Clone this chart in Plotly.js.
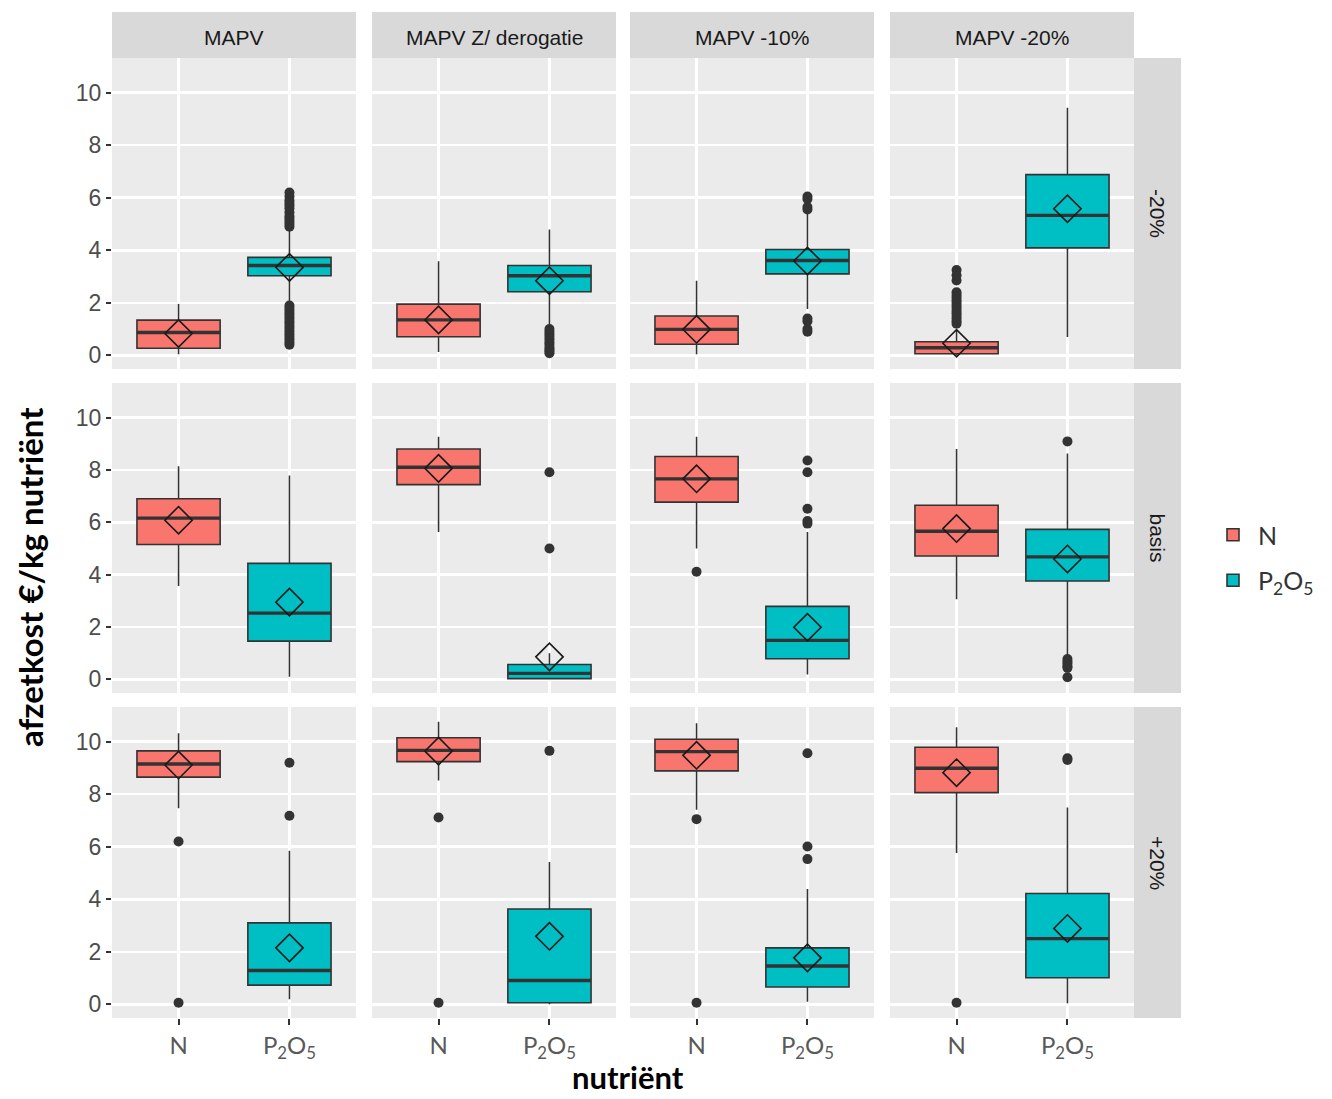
<!DOCTYPE html>
<html>
<head>
<meta charset="utf-8">
<script src="https://cdn.plot.ly/plotly-3.0.1.min.js"></script>
<style>html,body{margin:0;padding:0;background:#fff;}#chart{width:1332px;height:1099px;}</style>
</head>
<body>
<div id="chart"></div>
<script>
// ---------------- DATA ----------------
const scenarios = ['MAPV', 'MAPV Z/ derogatie', 'MAPV -10%', 'MAPV -20%'];
const prices = ['-20%', 'basis', '+20%'];
const nutrients = ['N', 'P<sub>2</sub>O<sub>5</sub>'];
// panel order: row (price) by row, scenario left to right
// N statistics
const nQ1   = [0.27, 0.71, 0.42, 0.06,   5.15, 7.44, 6.77, 4.71,   8.65, 9.24, 8.89, 8.06];
const nMed  = [0.87, 1.35, 0.99, 0.29,   6.16, 8.10, 7.66, 5.66,   9.15, 9.67, 9.62, 8.99];
const nQ3   = [1.34, 1.95, 1.50, 0.52,   6.90, 8.80, 8.51, 6.65,   9.65, 10.15, 10.09, 9.79];
const nLow  = [0.04, 0.13, 0.04, 0.00,   3.57, 5.63, 5.00, 3.06,   7.47, 8.52, 7.41, 5.76];
const nUp   = [1.95, 3.58, 2.84, 0.95,   8.14, 9.27, 9.27, 8.80,   10.32, 10.76, 10.70, 10.55];
const nMean = [0.83, 1.35, 0.99, 0.46,   6.08, 8.06, 7.66, 5.76,   9.11, 9.64, 9.48, 8.82];
const nOut  = [
  [], [], [], [1.2, 1.3, 1.4, 1.5, 1.6, 1.7, 1.8, 1.9, 2.0, 2.1, 2.2, 2.3, 2.4, 2.85, 3.05, 3.25],
  [], [], [4.11], [],
  [6.20, 0.06], [7.11, 0.06], [7.05, 0.06], [0.06]
];
// P2O5 statistics
const pQ1   = [3.03, 2.42, 3.10, 4.09,   1.46, 0.03, 0.79, 3.76,   0.73, 0.06, 0.66, 1.01];
const pMed  = [3.42, 3.03, 3.61, 5.33,   2.53, 0.23, 1.49, 4.68,   1.29, 0.91, 1.46, 2.50];
const pQ3   = [3.73, 3.42, 4.03, 6.88,   4.43, 0.57, 2.79, 5.73,   3.10, 3.63, 2.15, 4.22];
const pLow  = [2.00, 1.15, 1.76, 0.70,   0.10, 0.00, 0.19, 0.90,   0.19, 0.00, 0.10, 0.04];
const pUp   = [4.80, 4.79, 5.47, 9.43,   7.79, 1.00, 5.63, 8.63,   5.85, 5.42, 4.39, 7.49];
const pMean = [3.35, 2.84, 3.59, 5.58,   2.95, 0.86, 1.99, 4.60,   2.15, 2.59, 1.77, 2.89];
const pOut  = [
  [4.9, 5.0, 5.1, 5.2, 5.3, 5.45, 5.6, 5.7, 5.8, 5.9, 6.05, 6.2,
   0.4, 0.5, 0.6, 0.7, 0.8, 0.9, 1.0, 1.1, 1.2, 1.3, 1.4, 1.5, 1.6, 1.7, 1.8, 1.9],
  [0.08, 0.15, 0.22, 0.3, 0.4, 0.5, 0.6, 0.7, 0.8, 0.9, 1.0],
  [6.05, 5.95, 5.65, 5.55, 1.4, 1.3, 1.0, 0.9],
  [],
  [], [7.91, 5.0], [8.36, 7.91, 6.52, 6.05, 5.95], [9.09, 0.78, 0.68, 0.6, 0.5, 0.44, 0.08],
  [9.20, 7.18], [9.65], [9.56, 6.01, 5.53], [9.37, 9.30]
];

// ---------------- LAYOUT CONSTANTS ----------------
const W = 1332, H = 1099;
const colL = [112, 372, 630, 890];
const colR = [356, 616, 874, 1134];
const rowT = [58, 383, 707];
const rowB = [369, 693, 1018];
const stripTop = 12, stripRight = 1181;
const colors = ['#F8766D', '#00BFC4'];
const boxW = 0.75;

const statSets = [
  {q1: nQ1, med: nMed, q3: nQ3, lo: nLow, up: nUp, mean: nMean, out: nOut},
  {q1: pQ1, med: pMed, q3: pQ3, lo: pLow, up: pUp, mean: pMean, out: pOut}
];

const traces = [];
const layout = {
  width: W, height: H,
  margin: {l: 0, r: 0, t: 0, b: 0},
  paper_bgcolor: '#ffffff',
  plot_bgcolor: '#EBEBEB',
  boxmode: 'overlay',
  showlegend: true,
  hovermode: false,
  legend: {
    x: 1208 / W, y: 1 - 512 / H, xanchor: 'left', yanchor: 'top',
    font: {family: 'Lato, "Open Sans", sans-serif', size: 25, color: '#333333'},
    bgcolor: 'rgba(0,0,0,0)', tracegroupgap: 10, itemwidth: 40
  },
  shapes: [],
  annotations: []
};

for (let i = 0; i < 12; i++) {
  const r = Math.floor(i / 4), c = i % 4;
  const s = i === 0 ? '' : String(i + 1);
  layout['xaxis' + s] = {
    domain: [colL[c] / W, colR[c] / W], anchor: 'y' + s,
    range: [0.4, 2.6], tickmode: 'array', tickvals: [1, 2], ticktext: nutrients,
    showticklabels: r === 2, ticks: r === 2 ? 'outside' : '', ticklen: 6, tickwidth: 2, tickcolor: '#333333',
    tickfont: {family: 'Lato, "Open Sans", sans-serif', size: 24, color: '#595959'},
    showgrid: true, gridcolor: '#FFFFFF', gridwidth: 2.5, zeroline: false, showline: false, fixedrange: true
  };
  layout['yaxis' + s] = {
    domain: [1 - rowB[r] / H, 1 - rowT[r] / H], anchor: 'x' + s,
    range: [-0.52, 11.32], tickmode: 'array', tickvals: [0, 2, 4, 6, 8, 10],
    showticklabels: c === 0, ticks: c === 0 ? 'outside' : '', ticklen: 5, tickwidth: 2, tickcolor: '#333333',
    tickfont: {family: '"Liberation Sans", Arial, sans-serif', size: 23, color: '#4D4D4D'},
    showgrid: true, gridcolor: '#FFFFFF', gridwidth: 2.5, zeroline: false, showline: false, fixedrange: true
  };

  for (let k = 0; k < 2; k++) {
    const st = statSets[k];
    const xc = k + 1;
    traces.push({
      type: 'box', x: [xc],
      q1: [st.q1[i]], median: [st.med[i]], q3: [st.q3[i]],
      lowerfence: [st.lo[i]], upperfence: [st.up[i]],
      width: boxW, whiskerwidth: 0, boxpoints: false,
      fillcolor: colors[k], line: {color: '#333333', width: 1.6},
      xaxis: 'x' + s, yaxis: 'y' + s,
      name: nutrients[k], legendgroup: nutrients[k], showlegend: i === 0
    });
    // thicker median line (ggplot fatten)
    traces.push({
      type: 'scatter', mode: 'lines',
      x: [xc - boxW / 2, xc + boxW / 2], y: [st.med[i], st.med[i]],
      line: {color: '#333333', width: 3.4},
      xaxis: 'x' + s, yaxis: 'y' + s, showlegend: false, hoverinfo: 'skip'
    });
    // outliers
    if (st.out[i].length) {
      traces.push({
        type: 'scatter', mode: 'markers',
        x: st.out[i].map(() => xc), y: st.out[i],
        marker: {color: '#333333', size: 10},
        xaxis: 'x' + s, yaxis: 'y' + s, showlegend: false, hoverinfo: 'skip'
      });
    }
    // mean diamond
    traces.push({
      type: 'scatter', mode: 'markers',
      x: [xc], y: [st.mean[i]],
      marker: {symbol: 'diamond-open', size: 21, color: '#1A1A1A', line: {width: 1.6, color: '#1A1A1A'}},
      xaxis: 'x' + s, yaxis: 'y' + s, showlegend: false, hoverinfo: 'skip'
    });
  }
}

// facet strips (top)
for (let c = 0; c < 4; c++) {
  layout.shapes.push({
    type: 'rect', xref: 'paper', yref: 'paper', layer: 'below',
    x0: colL[c] / W, x1: colR[c] / W, y0: 1 - rowT[0] / H, y1: 1 - stripTop / H,
    fillcolor: '#D9D9D9', line: {width: 0}
  });
  layout.annotations.push({
    xref: 'paper', yref: 'paper', showarrow: false,
    x: (colL[c] + colR[c]) / 2 / W, y: 1 - (stripTop + rowT[0]) / 2 / H, yshift: -3,
    xanchor: 'center', yanchor: 'middle', text: scenarios[c],
    font: {family: '"Liberation Sans", Arial, sans-serif', size: 21, color: '#1A1A1A'}
  });
}
// facet strips (right)
for (let r = 0; r < 3; r++) {
  layout.shapes.push({
    type: 'rect', xref: 'paper', yref: 'paper', layer: 'below',
    x0: colR[3] / W, x1: stripRight / W, y0: 1 - rowB[r] / H, y1: 1 - rowT[r] / H,
    fillcolor: '#D9D9D9', line: {width: 0}
  });
  layout.annotations.push({
    xref: 'paper', yref: 'paper', showarrow: false,
    x: (colR[3] + stripRight) / 2 / W, y: 1 - (rowT[r] + rowB[r]) / 2 / H,
    xanchor: 'center', yanchor: 'middle', text: prices[r], textangle: 90,
    font: {family: '"Liberation Sans", Arial, sans-serif', size: 21, color: '#1A1A1A'}
  });
}
// axis titles
layout.annotations.push({
  xref: 'paper', yref: 'paper', showarrow: false,
  x: 30 / W, y: 1 - 577 / H, xanchor: 'center', yanchor: 'middle',
  text: '<b>afzetkost €/kg nutriënt</b>', textangle: -90,
  font: {family: 'Lato, "Open Sans", sans-serif', size: 33, color: '#000000'}
});
layout.annotations.push({
  xref: 'paper', yref: 'paper', showarrow: false, borderpad: 0,
  x: 628 / W, y: 1 - 1077 / H, xanchor: 'center', yanchor: 'middle',
  text: '<b>nutriënt</b>',
  font: {family: 'Lato, "Open Sans", sans-serif', size: 31, color: '#000000'}
});

Plotly.newPlot('chart', traces, layout, {staticPlot: true, displayModeBar: false});
</script>
</body>
</html>
